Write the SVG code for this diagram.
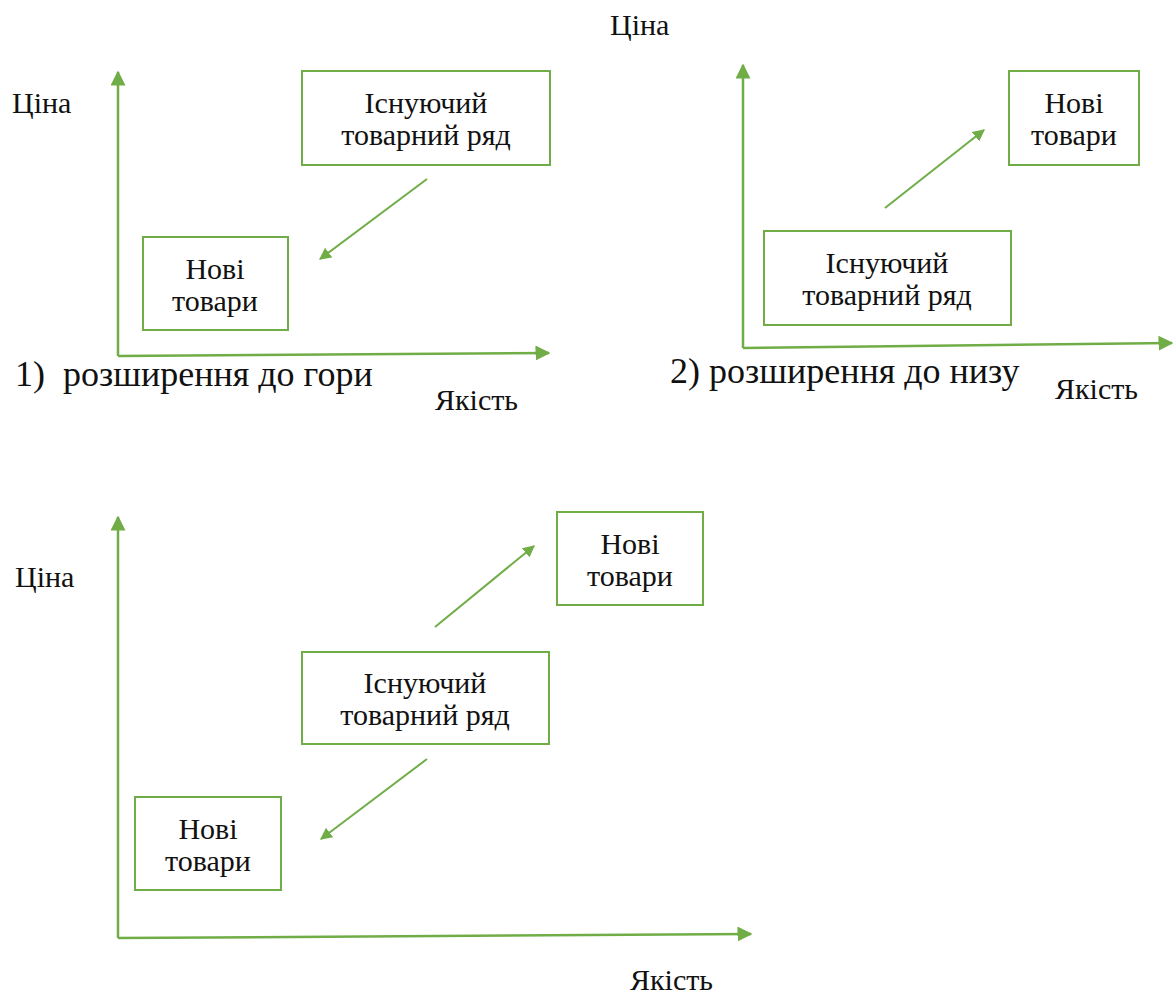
<svg xmlns="http://www.w3.org/2000/svg" width="1173" height="994" viewBox="0 0 1173 994">
<defs>
<marker id="ah" viewBox="0 0 10 10" refX="9" refY="5" markerWidth="6" markerHeight="6" markerUnits="strokeWidth" orient="auto">
<path d="M0,0 L10,5 L0,10 z" fill="#70AD47"/>
</marker>
<style>
.ax{stroke:#70AD47;stroke-width:2.5;fill:none}
.ar{stroke:#70AD47;stroke-width:2;fill:none}
.bx{stroke:#70AD47;stroke-width:2;fill:#fff}
.c{text-anchor:middle}
.big{font-size:36px}
</style>
</defs>
<rect width="1173" height="994" fill="#fff"/>
<g id="connectors">
<path class="ax" d="M118,356 L118,72" marker-end="url(#ah)"/>
<path class="ax" d="M118,356 L549,353" marker-end="url(#ah)"/>
<path class="ar" d="M427,179 L320,259" marker-end="url(#ah)"/>
<path class="ax" d="M743,348 L743,65" marker-end="url(#ah)"/>
<path class="ax" d="M743,348 L1172,343" marker-end="url(#ah)"/>
<path class="ar" d="M885,208 L984,130" marker-end="url(#ah)"/>
<path class="ax" d="M118,938 L118,517" marker-end="url(#ah)"/>
<path class="ax" d="M118,938 L751,934" marker-end="url(#ah)"/>
<path class="ar" d="M435,627 L534,546" marker-end="url(#ah)"/>
<path class="ar" d="M427,759 L321,839" marker-end="url(#ah)"/>
</g>
<g font-family="Liberation Serif, Times New Roman, serif" font-size="30" fill="#111">
<g id="p1-existing"><rect class="bx" x="302" y="71" width="248" height="94"/><text class="c" x="426" y="113">Існуючий</text><text class="c" x="426" y="145">товарний ряд</text></g>
<g id="p1-new"><rect class="bx" x="143" y="237" width="145" height="93"/><text class="c" x="215" y="279">Нові</text><text class="c" x="215" y="311">товари</text></g>
<g id="p1-labels"><text x="12" y="113">Ціна</text><text class="big" x="15" y="386" xml:space="preserve">1)  розширення до гори</text><text x="435" y="410">Якість</text></g>
<g id="p2-new"><rect class="bx" x="1009" y="71" width="130" height="94"/><text class="c" x="1074" y="113">Нові</text><text class="c" x="1074" y="145">товари</text></g>
<g id="p2-existing"><rect class="bx" x="764" y="231" width="247" height="94"/><text class="c" x="887" y="273">Існуючий</text><text class="c" x="887" y="305">товарний ряд</text></g>
<g id="p2-labels"><text x="610" y="35">Ціна</text><text class="big" x="670" y="383">2) розширення до низу</text><text x="1055" y="399">Якість</text></g>
<g id="p3-new-top"><rect class="bx" x="557" y="512" width="146" height="93"/><text class="c" x="630" y="554">Нові</text><text class="c" x="630" y="586">товари</text></g>
<g id="p3-existing"><rect class="bx" x="302" y="652" width="247" height="92"/><text class="c" x="425" y="693">Існуючий</text><text class="c" x="425" y="725">товарний ряд</text></g>
<g id="p3-new-bottom"><rect class="bx" x="135" y="797" width="146" height="93"/><text class="c" x="208" y="839">Нові</text><text class="c" x="208" y="871">товари</text></g>
<g id="p3-labels"><text x="15" y="587">Ціна</text><text x="630" y="990">Якість</text></g>
</g>
</svg>
